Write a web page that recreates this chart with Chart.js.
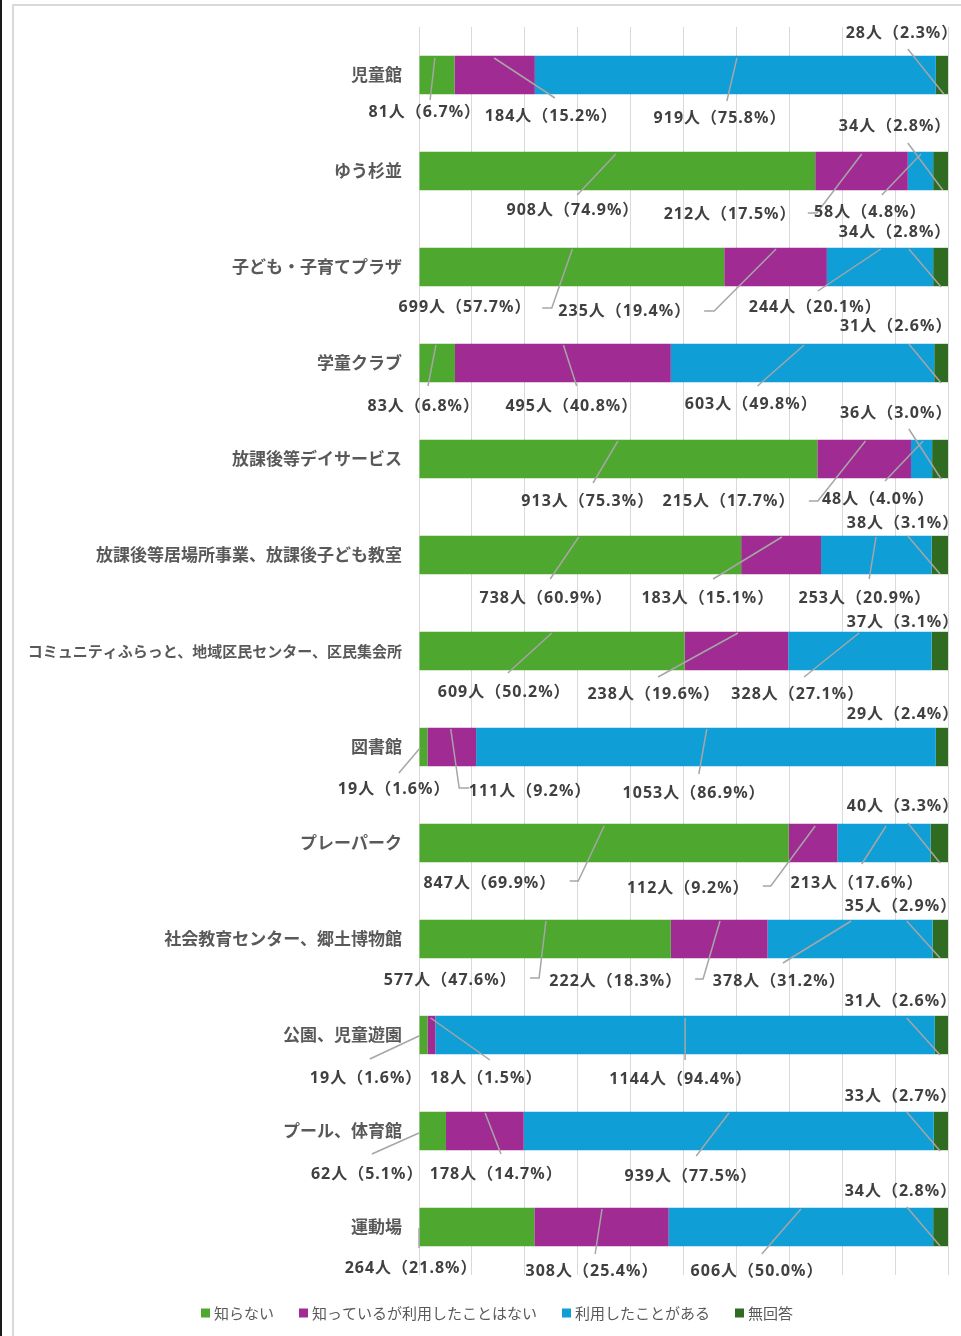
<!DOCTYPE html>
<html lang="ja">
<head>
<meta charset="UTF-8" />
<title>施設の認知・利用状況</title>
<script src="https://cdn.jsdelivr.net/npm/chart.js"></script>
<style>
  html, body { margin: 0; padding: 0; background: #fff; overflow: hidden; }
  #wrap { position: relative; width: 961px; height: 1336px; }
</style>
</head>
<body>
<div id="wrap"><canvas id="chart"></canvas></div>
<script>
const categories = [
  "児童館",
  "ゆう杉並",
  "子ども・子育てプラザ",
  "学童クラブ",
  "放課後等デイサービス",
  "放課後等居場所事業、放課後子ども教室",
  "コミュニティふらっと、地域区民センター、区民集会所",
  "図書館",
  "プレーパーク",
  "社会教育センター、郷土博物館",
  "公園、児童遊園",
  "プール、体育館",
  "運動場",
];
const seriesNames = ["知らない", "知っているが利用したことはない", "利用したことがある", "無回答"];

const notKnownCount = [81, 908, 699, 83, 913, 738, 609, 19, 847, 577, 19, 62, 264];
const notKnownPct = [6.7, 74.9, 57.7, 6.8, 75.3, 60.9, 50.2, 1.6, 69.9, 47.6, 1.6, 5.1, 21.8];
const notUsedCount = [184, 212, 235, 495, 215, 183, 238, 111, 112, 222, 18, 178, 308];
const notUsedPct = [15.2, 17.5, 19.4, 40.8, 17.7, 15.1, 19.6, 9.2, 9.2, 18.3, 1.5, 14.7, 25.4];
const usedCount = [919, 58, 244, 603, 48, 253, 328, 1053, 213, 378, 1144, 939, 606];
const usedPct = [75.8, 4.8, 20.1, 49.8, 4.0, 20.9, 27.1, 86.9, 17.6, 31.2, 94.4, 77.5, 50.0];
const noAnswerCount = [28, 34, 34, 31, 36, 38, 37, 29, 40, 35, 31, 33, 34];
const noAnswerPct = [2.3, 2.8, 2.8, 2.6, 3.0, 3.1, 3.1, 2.4, 3.3, 2.9, 2.6, 2.7, 2.8];

const colors = ["#4ea72e", "#a02b93", "#0f9ed5", "#306b22"];

// label placement, hand-placed like the original: [text x (%), text dy, leader polyline [x(%), dy, ...]]
const labelLayout = [
  [[1.1, 37, [2.1, 25, 3.0, -17]], [25.0, 41, [25.7, 23, 14.2, -17]], [56.9, 43, [58.2, 26, 60.1, -17]], [91.3, -42, [92.4, -26, 99.2, 19]]],
  [[29.1, 39, [29.9, 24, 37.2, -17]], [58.8, 43, [73.5, 42, 75.2, 42, 83.7, -17]], [85.3, 41, [87.5, 24, 94.9, -17]], [90.0, -45, [92.4, -28, 99.0, 19]]],
  [[8.7, 40, [23.3, 41, 25.1, 41, 29.0, -18]], [38.9, 44, [53.9, 44, 55.8, 44, 67.5, -18]], [74.9, 40, [75.4, 24, 87.3, -18]], [90.0, -35, [92.6, -18, 98.7, 20]]],
  [[0.9, 43, [1.7, 23, 3.2, -18]], [28.9, 43, [29.8, 23, 27.3, -18]], [62.8, 41, [64.0, 23, 72.8, -18]], [90.2, -37, [92.6, -19, 98.7, 20]]],
  [[31.9, 42, [32.9, 24, 37.6, -18]], [58.6, 42, [73.7, 42, 75.4, 42, 84.4, -18]], [86.8, 40, [88.1, 22, 95.3, -18]], [90.2, -46, [92.6, -30, 98.7, 20]]],
  [[24.0, 43, [24.8, 24, 30.2, -18]], [54.6, 43, [55.6, 24, 68.6, -18]], [84.3, 43, [85.1, 24, 86.4, -18]], [91.5, -32, [92.4, -19, 98.5, 19]]],
  [[16.1, 41, [16.8, 22, 25.1, -18]], [44.4, 43, [45.2, 26, 60.3, -18]], [71.6, 43, [72.8, 26, 83.2, -18]], [91.5, -29, null]],
  [[-4.7, 42, [-3.8, 26, 0.2, 1]], [21.0, 44, [9.5, 41, 7.6, 41, 6.0, -18]], [52.0, 46, [52.9, 27, 54.4, -18]], [91.5, -33, null]],
  [[13.4, 40, [28.5, 38, 30.1, 38, 35.0, -17]], [50.9, 45, [65.0, 43, 66.5, 43, 74.9, -17]], [82.8, 40, [83.7, 21, 88.3, -17]], [91.5, -37, [92.4, -20, 98.5, 20]]],
  [[5.9, 41, [21.0, 39, 22.7, 39, 24.0, -18]], [37.2, 42, [52.2, 40, 53.7, 40, 56.9, -18]], [68.1, 42, [68.8, 24, 81.7, -18]], [91.1, -33, [92.2, -18, 98.5, 19]]],
  [[-10.0, 43, [-9.3, 24, 0, 1]], [12.7, 43, [13.4, 25, 2.2, -17]], [49.5, 44, [50.3, 25, 50.3, -17]], [91.1, -34, [92.2, -17, 98.5, 20]]],
  [[-9.8, 43, [-8.9, 23, 0, 2]], [14.6, 43, [15.5, 23, 12.5, -18]], [51.4, 45, [52.4, 25, 58.6, -18]], [91.1, -35, [92.2, -19, 98.5, 20]]],
  [[-1.5, 41, [0, 1, 0, 21]], [32.7, 44, [33.3, 27, 34.6, -18]], [63.9, 44, [64.8, 27, 72.2, -18]], [91.1, -36, [92.2, -20, 98.5, 19]]],
];

const counts = [notKnownCount, notUsedCount, usedCount, noAnswerCount];
const pcts = [notKnownPct, notUsedPct, usedPct, noAnswerPct];

// frame + leader lines + labels + legend
const decor = {
  id: "decor",
  beforeDraw(chart) {
    const ctx = chart.ctx;
    ctx.save();
    ctx.fillStyle = "#fff";
    ctx.fillRect(0, 0, chart.width, chart.height);
    ctx.strokeStyle = "#d9d9d9";
    ctx.lineWidth = 2;
    ctx.beginPath();
    ctx.moveTo(13, chart.height);
    ctx.lineTo(13, 5);
    ctx.lineTo(chart.width, 5);
    ctx.stroke();
    ctx.fillStyle = "#1a1a1a";
    ctx.fillRect(0, 0, 2, chart.height);
    ctx.restore();
  },
  afterDatasetsDraw(chart) {
    const ctx = chart.ctx;
    const x = chart.scales.x;
    ctx.save();
    for (let i = 0; i < categories.length; i++) {
      const yc = chart.getDatasetMeta(0).data[i].y;
      for (let s = 0; s < 4; s++) {
        const [tx, ty, line] = labelLayout[i][s];
        if (line) {
          ctx.strokeStyle = "#a6a6a6";
          ctx.lineWidth = 1.5;
          ctx.beginPath();
          for (let k = 0; k < line.length; k += 2) {
            const px = x.getPixelForValue(line[k]);
            const py = yc + line[k + 1];
            if (k === 0) ctx.moveTo(px, py);
            else ctx.lineTo(px, py);
          }
          ctx.stroke();
        }
        ctx.fillStyle = "#404040";
        ctx.font = "bold 16px 'Noto Sans', 'Noto Sans CJK JP', sans-serif";
        ctx.letterSpacing = "1px";
        ctx.textAlign = "center";
        ctx.textBaseline = "middle";
        const text = counts[s][i] + "人（" + pcts[s][i].toFixed(1) + "%）";
        ctx.fillText(text, x.getPixelForValue(tx), yc + ty);
      }
    }
    ctx.letterSpacing = "0px";
    ctx.restore();
  },
  afterDraw(chart) {
    const ctx = chart.ctx;
    ctx.save();
    ctx.font = "15px 'Noto Sans CJK JP', sans-serif";
    ctx.textBaseline = "middle";
    ctx.textAlign = "left";
    const box = 9, gap = 4, spacing = 25;
    const widths = seriesNames.map((n) => box + gap + ctx.measureText(n).width);
    const total = widths.reduce((a, b) => a + b, 0) + spacing * (seriesNames.length - 1);
    let lx = 497 - total / 2;
    const ly = 1313;
    seriesNames.forEach((n, k) => {
      ctx.fillStyle = colors[k];
      ctx.fillRect(lx, ly - box / 2, box, box);
      ctx.fillStyle = "#595959";
      ctx.fillText(n, lx + box + gap, ly);
      lx += widths[k] + spacing;
    });
    ctx.restore();
  },
};

new Chart(document.getElementById("chart"), {
  type: "bar",
  data: {
    labels: categories,
    datasets: pcts.map((p, k) => ({
      label: seriesNames[k],
      data: p,
      backgroundColor: colors[k],
      borderWidth: 0,
      barPercentage: 0.8,
      categoryPercentage: 0.5,
    })),
  },
  options: {
    indexAxis: "y",
    responsive: true,
    maintainAspectRatio: false,
    animation: false,
    layout: { padding: { top: 27, right: 13, bottom: 61, left: 0 } },
    plugins: {
      legend: { display: false },
      tooltip: { enabled: false },
    },
    scales: {
      x: {
        stacked: true,
        min: 0,
        max: 100,
        ticks: { display: false, stepSize: 10 },
        grid: { color: "#d9d9d9", lineWidth: 1, drawTicks: false },
        border: { display: false },
      },
      y: {
        stacked: true,
        grid: { display: false },
        border: { display: false },
        afterFit: (s) => { s.width = 419; },
        ticks: {
          padding: 9,
          color: "#595959",
          font: (c) => ({
            family: "'Noto Sans CJK JP', sans-serif",
            weight: "bold",
            size: c.tick && c.tick.label.length > 20 ? 15 : 17,
          }),
        },
      },
    },
  },
  plugins: [decor],
});
</script>
</body>
</html>
